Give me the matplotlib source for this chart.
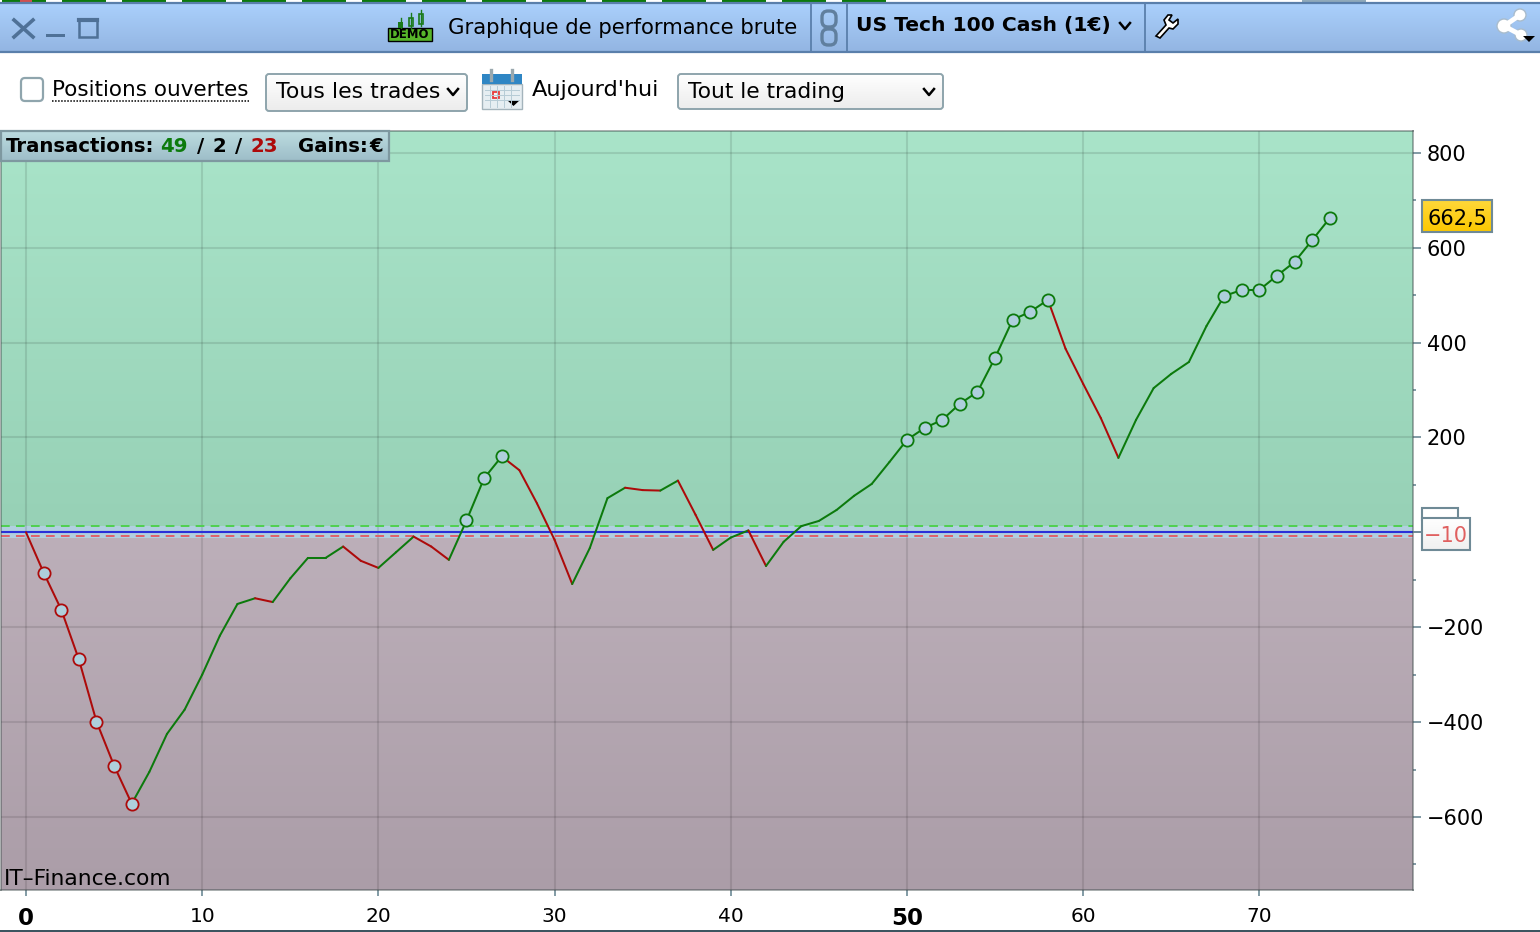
import numpy as np
import matplotlib
matplotlib.use("Agg")
import matplotlib.pyplot as plt
from matplotlib.patches import Rectangle, FancyBboxPatch, Circle, Polygon

# equity curve, one value per trade
trade_no = list(range(75))
equity = [0, -85, -163, -268, -399, -492, -572, -505, -425, -374,
          -300, -218, -151, -139, -147, -97, -54, -54, -30, -60,
          -75, -42, -9, -30, -58, 25, 114, 160, 131, 61,
          -16, -109, -33, 72, 94, 89, 88, 109, 37, -37,
          -11, 4, -71, -20, 13, 24, 47, 77, 102, 148,
          195, 220, 237, 271, 296, 368, 448, 465, 490, 387,
          313, 241, 157, 237, 304, 334, 359, 435, 498, 511,
          511, 541, 570, 616, 662.5]
red_marks = [1, 2, 3, 4, 5, 6]
green_marks = [25, 26, 27, 50, 51, 52, 53, 54, 55, 56, 57, 58,
               68, 69, 70, 71, 72, 73, 74]
x_ticks = [0, 10, 20, 30, 40, 50, 60, 70]
y_ticks = [-600, -400, -200, 200, 400, 600, 800]
y_minor = [-700, -500, -300, -100, 100, 300, 500, 700]
high_line = 14
low_line = -10
last_label = "662,5"
low_label = "\u221210"

GREEN = "#0c7a0c"
RED = "#ad0a0a"
W, H = 1540, 932

plt.rcParams["font.family"] = "DejaVu Sans"
fig = plt.figure(figsize=(W / 100, H / 100), dpi=100)

# plot area, placed in pixels
left, right, top, bottom = 1, 1413, 131, 890
ax = fig.add_axes([left / W, 1 - bottom / H, (right - left) / W, (bottom - top) / H])
xlim = (-1.42, 78.72)
ylim = (-754, 846)


def vgrad(axis, c1, c2, extent, z=0):
    c1 = np.array(matplotlib.colors.to_rgb(c1))
    c2 = np.array(matplotlib.colors.to_rgb(c2))
    t = np.linspace(0, 1, 128)[:, None, None]
    axis.imshow(c1 * (1 - t) + c2 * t, extent=extent, aspect="auto", origin="upper",
                zorder=z, interpolation="bilinear")


vgrad(ax, "#a9e4c9", "#97d1b6", (xlim[0], xlim[1], high_line, ylim[1]))
vgrad(ax, "#bcafb9", "#ab9da8", (xlim[0], xlim[1], ylim[0], low_line - 2))
ax.axhspan(low_line - 2, high_line, color="#b1cfdf", lw=0, zorder=0.5)
ax.set_xlim(*xlim)
ax.set_ylim(*ylim)

ax.grid(True, color="black", alpha=0.1, lw=1.5, zorder=1)
ax.set_axisbelow(True)
ax.axhline(high_line, color="#4fd04f", lw=1.4, dashes=(4.5, 3.2), zorder=2)
ax.axhline(low_line + 2, color="#e0606a", lw=1.4, dashes=(4.5, 3.2), zorder=2)
ax.axhline(0, color="#2a30d8", lw=1.5, zorder=2)

# line goes green on the way up, red on the way down
for i in range(len(equity) - 1):
    col = GREEN if equity[i + 1] >= equity[i] else RED
    ax.plot(trade_no[i:i + 2], equity[i:i + 2], color=col, lw=1.45, zorder=3,
            solid_capstyle="round")

for idx, col in ((red_marks, RED), (green_marks, GREEN)):
    ax.plot([trade_no[i] for i in idx], [equity[i] for i in idx], ls="none", marker="o",
            ms=8.8, mew=1.3, mec=col, mfc="#aecfdc", zorder=4)

ax.yaxis.tick_right()
ax.set_xticks(x_ticks)
ax.set_yticks(y_ticks + [0])
ax.set_yticks(y_minor, minor=True)
ax.set_yticklabels([str(v).replace("-", "\u2212") for v in y_ticks] + [""], fontsize=15)
ax.set_xticklabels([str(v) for v in x_ticks], fontsize=14.5)
ax.tick_params(axis="y", which="major", length=6, width=1.2, color="#6d8a96", pad=4)
ax.tick_params(axis="y", which="minor", length=2.5, width=1.2, color="#6d8a96")
ax.tick_params(axis="x", length=4, width=1.2, color="#6d8a96", pad=8)
for lab in ax.get_xticklabels():
    if lab.get_text() in ("0", "50"):
        lab.set_fontweight("bold")
        lab.set_fontsize(16.5)
for s in ax.spines.values():
    s.set_color((0.25, 0.3, 0.3, 0.45))
    s.set_linewidth(1.4)

# window furniture on top, in pixel coordinates
ui = fig.add_axes([0, 0, 1, 1], zorder=5)
ui.set_xlim(0, W)
ui.set_ylim(H, 0)
ui.axis("off")
ui.patch.set_alpha(0)


def txt(x, y, s, size=15.4, color="black", **kw):
    kw.setdefault("ha", "left")
    ui.text(x, y, s, fontsize=size, color=color, va="center", **kw)


def box(x0, y0, x1, y1, c1, c2, edge, rad=3, lw=1.4):
    im = ui.imshow(np.linspace(0, 1, 64)[:, None, None] * np.array(matplotlib.colors.to_rgb(c2))
                   + np.linspace(1, 0, 64)[:, None, None] * np.array(matplotlib.colors.to_rgb(c1)),
                   extent=(x0, x1, y1, y0), aspect="auto", zorder=1)
    p = FancyBboxPatch((x0, y0), x1 - x0, y1 - y0, boxstyle=f"round,pad=0,rounding_size={rad}",
                       fc="none", ec=edge, lw=lw, zorder=2)
    ui.add_patch(p)
    im.set_clip_path(p)


def chevron(x, y, s=5):
    ui.plot([x - s, x, x + s], [y - s * 0.6, y + s * 0.6, y - s * 0.6], color="black", lw=1.8,
            solid_joinstyle="round", zorder=3)


# top strip left over from the window behind
for gx in range(2, 870, 60):
    ui.add_patch(Rectangle((gx, 0), 44, 2.5, fc="#0c7a0c", lw=0))
ui.add_patch(Rectangle((20, 0), 12, 2.5, fc="#d05050", lw=0))
ui.add_patch(Rectangle((1302, 0), 64, 2.5, fc="#8fa9ba", lw=0))

# header bar
box(-2, 3, W + 2, 52, "#aad0fc", "#93b5e2", "#5a7fab", rad=0, lw=1.6)
ui.plot([14, 33], [20, 37], color="#4f7197", lw=2.6)
ui.plot([14, 33], [37, 20], color="#4f7197", lw=2.6)
ui.add_patch(Rectangle((46, 34), 19, 3, fc="#4f7197", lw=0))
ui.add_patch(Rectangle((79, 19), 18, 18, fc="none", ec="#4f7197", lw=1.8))
ui.plot([79, 97], [20, 20], color="#4f7197", lw=3)

# demo icon
ui.add_patch(Rectangle((388, 28), 44, 13, fc="#57b52a", ec="black", lw=1))
ui.text(410, 35, "DEMO", fontsize=8.5, fontweight="bold", ha="center", va="center", color="black")
ui.add_patch(Rectangle((398, 22), 5, 6, fc="#1a7a1a", lw=0))
ui.plot([400.5, 400.5], [18, 28], color="#1a7a1a", lw=1)
ui.add_patch(Rectangle((408.5, 18), 4, 8, fc="none", ec="#1a7a1a", lw=1.2))
ui.plot([410.5, 410.5], [13, 28], color="#1a7a1a", lw=1)
ui.add_patch(Rectangle((418.5, 14), 4, 10, fc="none", ec="#1a7a1a", lw=1.2))
ui.plot([420.5, 420.5], [10, 26], color="#1a7a1a", lw=1)

txt(448, 28, "Graphique de performance brute", size=15.3)
for sx in (811, 847, 1145):
    ui.plot([sx, sx], [4, 51], color="#5a7fab", lw=1.3)
for ly in (19, 37):
    ui.add_patch(FancyBboxPatch((822, ly - 8), 14, 16, boxstyle="round,pad=0,rounding_size=6",
                                fc="none", ec="#607f9e", lw=2.4))
txt(856, 26, "US Tech 100 Cash (1\u20ac)", size=14.6, fontweight="semibold")
chevron(1125, 26, 5)
# wrench
ui.add_patch(Polygon([(1156, 36), (1166, 25), (1164, 20), (1168, 15), (1172, 15), (1169, 20),
                      (1173, 23), (1178, 19), (1178, 24), (1173, 29), (1169, 28), (1160, 38)],
                     fc="white", ec="black", lw=1.2))
# share
ui.plot([1520, 1504, 1521], [15, 26, 35], color="white", lw=3.5)
for sx, sy, r in ((1520, 15, 6), (1504, 26, 7), (1521, 35, 6)):
    ui.add_patch(Circle((sx, sy), r, fc="white", ec="#a9bccc", lw=1))
ui.add_patch(Polygon([(1523, 36), (1535, 36), (1529, 42)], fc="black", lw=0))

# options row
ui.add_patch(FancyBboxPatch((21, 78), 22, 23, boxstyle="round,pad=0,rounding_size=4",
                            fc="white", ec="#8fa5ad", lw=1.6))
txt(52, 90, "Positions ouvertes", size=15.5)
ui.plot([52, 249], [100.5, 100.5], color="black", lw=1.1, ls=(0, (1, 1)))
box(266, 74, 467, 111, "#ffffff", "#ececec", "#8ea4ac")
txt(276, 92.5, "Tous les trades", size=15.8)
chevron(453, 92, 5)
box(678, 74, 943, 109, "#ffffff", "#ececec", "#8ea4ac")
txt(688, 92.5, "Tout le trading", size=15.7)
chevron(929, 92, 5)
# calendar
ui.add_patch(Rectangle((482, 84), 40, 25, fc="#e6eef2", ec="#a4b4bc", lw=1))
ui.add_patch(Rectangle((482, 74), 40, 10, fc="#2f86c4", lw=0))
for cx in (491, 512):
    ui.plot([cx, cx], [70, 80], color="#9aa8ae", lw=2.4)
for gy in (90, 95, 100):
    ui.plot([485, 519], [gy, gy], color="#b6cbd6", lw=0.7)
for gx in (490, 497, 504, 511):
    ui.plot([gx, gx], [86, 107], color="#b6cbd6", lw=0.7)
ui.add_patch(Rectangle((493, 92), 6, 6, fc="#f4f4f4", ec="#e83a3a", lw=1.3))
ui.add_patch(Polygon([(507, 100), (520, 100), (513.5, 106)], fc="black", lw=0))
txt(532, 90, "Aujourd'hui", size=16.2)

# stats tag over the chart
box(1, 131, 389, 161, "#bcdce0", "#9dbdc8", "#7e98a0", rad=0, lw=1.6)
for x0, s, col in ((6, "Transactions:", "black"), (160, "49", GREEN), (197, "/", "black"),
                   (212, "2", "black"), (235, "/", "black"), (250, "23", RED),
                   (298, "Gains:", "black"), (369, "\u20ac", "black")):
    txt(x0, 147, s, size=14.2, color=col, fontweight="semibold")

txt(4, 879, "IT\u2013Finance.com", size=15.7)

# value tags on the price scale
box(1422, 200, 1492, 232, "#ffd83a", "#fcc800", "#6f8a96", rad=0, lw=1.5)
txt(1457, 219, last_label, size=15, ha="center")
ui.add_patch(Rectangle((1422, 508), 36, 12, fc="white", ec="#6f8a96", lw=1.5))
box(1422, 518, 1470, 550, "#ffffff", "#f0f0f0", "#6f8a96", rad=0, lw=1.5)
txt(1446, 536.5, low_label, size=15, color="#e06060", ha="center")
ui.plot([1414, 1422], [532, 532], color="#6f8a96", lw=1.2)

ui.add_patch(Rectangle((0, 930), W, 2, fc="#3c5560", lw=0))
ui.set_xlim(0, W)
ui.set_ylim(H, 0)

fig.savefig("out.png", dpi=100)
